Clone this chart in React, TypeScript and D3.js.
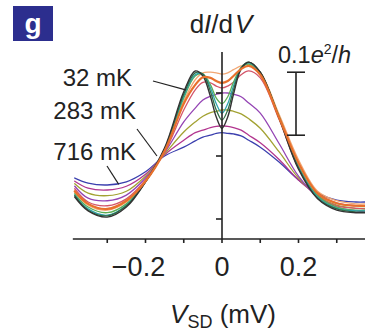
import React from "react";
import * as d3 from "d3";

// Source–drain bias (mV) at which each trace is sampled
const biasMV = [-0.385, -0.35, -0.3, -0.25, -0.2, -0.15, -0.1, -0.07, -0.05, -0.03, -0.015, 0, 0.015, 0.03, 0.05, 0.07, 0.1, 0.15, 0.2, 0.25, 0.3, 0.35, 0.375];

// Differential conductance dI/dV (e^2/h) for each temperature, hottest first
const trace716 = [0.165, 0.157, 0.154, 0.159, 0.175, 0.200, 0.214, 0.224, 0.230, 0.233, 0.236, 0.237, 0.236, 0.235, 0.232, 0.225, 0.214, 0.190, 0.162, 0.141, 0.130, 0.127, 0.127];
const traceT2 = [0.160, 0.149, 0.146, 0.152, 0.171, 0.202, 0.225, 0.237, 0.241, 0.245, 0.247, 0.248, 0.247, 0.245, 0.241, 0.233, 0.221, 0.194, 0.162, 0.138, 0.125, 0.121, 0.121];
const traceT3 = [0.156, 0.141, 0.137, 0.144, 0.168, 0.203, 0.238, 0.254, 0.263, 0.269, 0.271, 0.273, 0.273, 0.271, 0.267, 0.259, 0.244, 0.206, 0.165, 0.137, 0.122, 0.117, 0.117];
const traceT4 = [0.152, 0.133, 0.129, 0.138, 0.165, 0.205, 0.254, 0.276, 0.289, 0.295, 0.298, 0.300, 0.300, 0.298, 0.294, 0.284, 0.268, 0.219, 0.168, 0.135, 0.119, 0.113, 0.111];
const traceT5 = [0.148, 0.127, 0.121, 0.132, 0.162, 0.206, 0.273, 0.305, 0.317, 0.316, 0.311, 0.308, 0.311, 0.317, 0.329, 0.335, 0.324, 0.257, 0.181, 0.137, 0.121, 0.117, 0.116];
const traceT6 = [0.143, 0.122, 0.114, 0.127, 0.159, 0.210, 0.287, 0.321, 0.332, 0.333, 0.332, 0.330, 0.332, 0.337, 0.343, 0.346, 0.333, 0.265, 0.194, 0.144, 0.129, 0.124, 0.124];
const traceT7 = [0.140, 0.119, 0.110, 0.124, 0.159, 0.210, 0.292, 0.327, 0.330, 0.313, 0.292, 0.283, 0.294, 0.317, 0.340, 0.346, 0.332, 0.262, 0.184, 0.137, 0.119, 0.114, 0.114];
const traceT8 = [0.138, 0.116, 0.106, 0.122, 0.159, 0.211, 0.295, 0.329, 0.330, 0.308, 0.283, 0.268, 0.283, 0.311, 0.340, 0.348, 0.332, 0.260, 0.183, 0.135, 0.117, 0.113, 0.113];
const traceT9 = [0.137, 0.114, 0.105, 0.121, 0.159, 0.211, 0.298, 0.332, 0.330, 0.302, 0.273, 0.257, 0.273, 0.305, 0.340, 0.349, 0.333, 0.260, 0.181, 0.133, 0.116, 0.111, 0.111];
const trace32 = [0.135, 0.113, 0.103, 0.119, 0.159, 0.213, 0.302, 0.335, 0.327, 0.294, 0.262, 0.244, 0.262, 0.298, 0.338, 0.349, 0.333, 0.259, 0.179, 0.132, 0.114, 0.110, 0.110];
const trace283 = [0.144, 0.124, 0.116, 0.129, 0.160, 0.208, 0.283, 0.313, 0.325, 0.324, 0.319, 0.316, 0.319, 0.327, 0.338, 0.343, 0.329, 0.260, 0.189, 0.141, 0.125, 0.121, 0.121];

// Drawing order: hottest underneath, 283 mK trace on top
const traces = [trace716, traceT2, traceT3, traceT4, traceT5, traceT6, traceT7, traceT8, traceT9, trace32, trace283];
const traceColors = ["#3b3fae", "#b2358f", "#a3a233", "#9444b4", "#d4566a", "#f2a774", "#5cae55", "#2ea3ad", "#2f6d44", "#333333", "#e8702c"];
const traceWidths = [1.3, 1.3, 1.3, 1.3, 1.3, 1.3, 1.3, 1.3, 1.3, 1.4, 2.2];

const xTicksMinor = [-0.3, -0.2, -0.1, 0, 0.1, 0.2, 0.3];
const xTickLabels = [-0.2, 0, 0.2];
const yTicks = [0.1, 0.2, 0.3];
const xExtent = [-0.39, 0.375];
const yExtent = [0.0683, 0.365];
const scaleBar = [0.233, 0.333];

// Temperature labels with the point of the trace each leader touches
const tempLabels = ["32 mK", "283 mK", "716 mK"];
const leaderTargets = [[-0.095, 0.305], [-0.17, 0.2], [-0.27, 0.155]];

const FONT = "'Liberation Sans', Arial, Helvetica, sans-serif";

export default function App() {
  const x = d3.scaleLinear().domain([-0.2, 0.2]).range([145.5, 298.5]);
  const y = d3.scaleLinear().domain([0.1, 0.3]).range([219, 93]);

  const line = d3
    .line<number>()
    .x((_, i) => x(biasMV[i]))
    .y((d) => y(d))
    .curve(d3.curveCatmullRom.alpha(0.5));

  const x0 = x(0);
  const yAxis = y(yExtent[0]);
  const fmt = (v: number) => (v === 0 ? "0" : (v < 0 ? "\u2212" : "") + Math.abs(v).toFixed(1));

  const labelPos = [
    { x: 132, y: 86, lx: 153, ly: 81 },
    { x: 136, y: 119, lx: 137, ly: 129 },
    { x: 136, y: 160, lx: 107, ly: 166 },
  ];

  return (
    <svg
      width={365}
      height={334}
      style={{ position: "absolute", left: 0, top: 0, background: "#fff" }}
      fontFamily={FONT}
    >
      {/* panel letter */}
      <rect x={13} y={6} width={40} height={35} fill="#2c2e8e" />
      <text x={33} y={33} textAnchor="middle" fill="#fff" fontSize={28} fontWeight="bold">g</text>

      {/* traces */}
      <g fill="none" strokeLinejoin="round" strokeLinecap="round">
        {traces.map((t, i) => (
          <path key={i} d={line(t) ?? ""} stroke={traceColors[i]} strokeWidth={traceWidths[i]} />
        ))}
      </g>

      {/* x axis */}
      <g stroke="#222" strokeWidth={1.6}>
        <line x1={x(xExtent[0])} x2={x(xExtent[1])} y1={yAxis} y2={yAxis} />
        {xTicksMinor.map((v) => (
          <line key={v} x1={x(v)} x2={x(v)} y1={yAxis} y2={yAxis + 4} />
        ))}
      </g>
      {xTickLabels.map((v) => (
        <text key={v} x={x(v) - (v < 0 ? 7 : 0)} y={276} textAnchor="middle" fontSize={27} fill="#222">
          {fmt(v)}
        </text>
      ))}
      <text x={223} y={323} textAnchor="middle" fontSize={26} fill="#222">
        <tspan fontStyle="italic">V</tspan>
        <tspan fontSize={18} dy={5}>SD</tspan>
        <tspan dy={-5}> (mV)</tspan>
      </text>

      {/* y axis at zero bias */}
      <g stroke="#222" strokeWidth={1.6}>
        <line x1={x0} x2={x0} y1={yAxis} y2={y(yExtent[1])} />
        {yTicks.map((v) => (
          <line key={v} x1={x0 - 6} x2={x0} y1={y(v)} y2={y(v)} />
        ))}
      </g>
      <text x={221} y={33} textAnchor="middle" fontSize={26} fill="#222">
        <tspan>d</tspan>
        <tspan fontStyle="italic">I</tspan>
        <tspan>/d</tspan>
        <tspan fontStyle="italic" dx={2}>V</tspan>
      </text>

      {/* conductance scale bar */}
      <g stroke="#222" strokeWidth={1.6}>
        <line x1={296} x2={296} y1={y(scaleBar[1])} y2={y(scaleBar[0])} />
        <line x1={287} x2={305} y1={y(scaleBar[1])} y2={y(scaleBar[1])} />
        <line x1={287} x2={305} y1={y(scaleBar[0])} y2={y(scaleBar[0])} />
      </g>
      <text x={278} y={63} fontSize={23.5} fill="#222">
        <tspan>0.1</tspan>
        <tspan fontStyle="italic">e</tspan>
        <tspan fontSize={14} dy={-9}>2</tspan>
        <tspan dy={9}>/</tspan>
        <tspan fontStyle="italic">h</tspan>
      </text>

      {/* temperature labels */}
      {tempLabels.map((s, i) => (
        <g key={s}>
          <text x={labelPos[i].x} y={labelPos[i].y} textAnchor="end" fontSize={24} fill="#222">
            {s}
          </text>
          <line
            x1={labelPos[i].lx}
            y1={labelPos[i].ly}
            x2={x(leaderTargets[i][0])}
            y2={y(leaderTargets[i][1])}
            stroke="#222"
            strokeWidth={1.2}
          />
        </g>
      ))}
    </svg>
  );
}
